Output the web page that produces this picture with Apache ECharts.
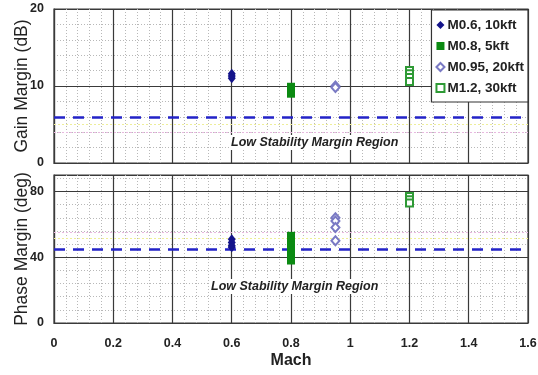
<!DOCTYPE html>
<html>
<head>
<meta charset="utf-8">
<script src="https://cdn.jsdelivr.net/npm/echarts@6/dist/echarts.min.js"></script>
<style>
  html, body { margin: 0; padding: 0; background: #fff; }
  #chart { width: 538px; height: 375px; }
</style>
</head>
<body>
<div id="chart"></div>
<script>
// Flight conditions (legend names) and their Mach numbers
const conditions = ['M0.6, 10kft', 'M0.8, 5kft', 'M0.95, 20kft', 'M1.2, 30kft'];
const machValues = [0.6, 0.8, 0.95, 1.2];

// Gain margin (dB) per condition
const gainMargins = [
  [11.6, 11.3, 11.0],
  [9.9, 9.6, 9.3, 9.0],
  [10.0, 9.8],
  [12.0, 11.6, 11.1, 10.6]
];

// Phase margin (deg) per condition
const phaseMargins = [
  [51, 49, 47, 46],
  [53, 50, 47, 44, 41, 38],
  [64, 62, 58, 50],
  [77, 75, 73]
];

// Stability requirement thresholds
const gainLimit = 6;
const phaseLimit = 45;

// Faint reference levels (pink, yellow) in each panel
const gainGuides = [4, 5];
const phaseGuides = [55, 51.5];

const xTicks = [0, 0.2, 0.4, 0.6, 0.8, 1, 1.2, 1.4, 1.6];
const gainTicks = [0, 10, 20];
const phaseTicks = [0, 40, 80];

const markerStyles = [
  { symbol: 'diamond', size: [8, 10], color: '#14148a' },
  { symbol: 'rect', size: [8, 8], color: '#0b8a12' },
  { symbol: 'emptyDiamond', size: [8, 9], color: '#7a7ac4' },
  { symbol: 'emptyRect', size: [7, 7], color: '#2e9a35' }
];

const tickFont = { fontFamily: '"Liberation Sans Narrow", "Liberation Sans", Arial, sans-serif', fontWeight: 'bold', fontSize: 12.5, color: '#222' };
const majorLine = { show: true, lineStyle: { color: '#3a3a3a', width: 1.2 } };
const minorLine = { show: true, lineStyle: { color: '#b8b8b8', width: 1, type: [1, 2] } };

function xAxisFor(gridIndex, showLabels) {
  return {
    type: 'value', gridIndex, min: 0, max: 1.6, interval: 0.2,
    axisLine: { show: true, lineStyle: { color: '#3a3a3a', width: 1.2 } },
    axisTick: { show: false },
    axisLabel: Object.assign({ show: showLabels, margin: 14, formatter: v => {
      const t = xTicks.find(k => Math.abs(k - v) < 1e-6);
      return t === undefined ? '' : String(t);
    } }, tickFont),
    splitLine: majorLine,
    minorTick: { show: false, splitNumber: 5 },
    minorSplitLine: minorLine,
    name: showLabels ? 'Mach' : '',
    nameLocation: 'middle', nameGap: 30, nameMoveOverlap: false,
    nameTextStyle: { fontFamily: 'Liberation Sans, Arial, sans-serif', fontWeight: 'bold', fontSize: 16, color: '#222' }
  };
}

function yAxisFor(gridIndex, max, interval, name, ticks) {
  return {
    type: 'value', gridIndex, min: 0, max, interval,
    axisLine: { show: true, lineStyle: { color: '#3a3a3a', width: 1.2 } },
    axisTick: { show: false },
    axisLabel: Object.assign({ margin: 10, showMaxLabel: true, formatter: v => ticks.includes(v) ? String(v) : '' }, tickFont),
    splitLine: majorLine,
    minorTick: { show: false, splitNumber: 5 },
    minorSplitLine: minorLine,
    name, nameLocation: 'middle', nameGap: 23, nameRotate: 90, nameMoveOverlap: false,
    nameTextStyle: { fontFamily: 'Liberation Sans, Arial, sans-serif', fontSize: 17.5, color: '#222' }
  };
}

const series = [];
conditions.forEach((name, i) => {
  const st = markerStyles[i];
  const base = {
    name, type: 'scatter', symbol: st.symbol, symbolSize: st.size,
    itemStyle: { color: st.color, borderColor: st.color, borderWidth: st.symbol.startsWith('empty') ? 1.2 : 0, opacity: 1 },
    z: 5
  };
  series.push(Object.assign({}, base, {
    xAxisIndex: 0, yAxisIndex: 0,
    data: gainMargins[i].map(v => [machValues[i], v])
  }));
  series.push(Object.assign({}, base, {
    xAxisIndex: 1, yAxisIndex: 1,
    data: phaseMargins[i].map(v => [machValues[i], v])
  }));
});

const dashStyle = { color: '#2323c8', width: 2.5, type: [11, 8] };
const guideColors = ['#e8b8e0', '#eeee9a'];

function levelSeries(name, axisIndex, limit, guides) {
  return {
    name, type: 'line', symbol: 'none', data: [], silent: true, z: 3,
    xAxisIndex: axisIndex, yAxisIndex: axisIndex,
    markLine: {
      symbol: 'none', silent: true, label: { show: false },
      data: [
        { yAxis: guides[0], lineStyle: { color: guideColors[0], width: 1, type: [2, 2] } },
        { yAxis: guides[1], lineStyle: { color: guideColors[1], width: 1, type: [2, 2] } },
        { yAxis: limit, lineStyle: dashStyle }
      ]
    }
  };
}
series.push(levelSeries('gainLimit', 0, gainLimit, gainGuides));
series.push(levelSeries('phaseLimit', 1, phaseLimit, phaseGuides));

const regionText = {
  fontFamily: 'Liberation Sans, Arial, sans-serif', fontStyle: 'italic', fontWeight: 'bold',
  fontSize: 12.5, fill: '#222', backgroundColor: '#fff', padding: [1, 2]
};

const chart = echarts.init(document.getElementById('chart'), null, { renderer: 'canvas' });
chart.setOption({
  animation: false,
  backgroundColor: '#fff',
  grid: [
    { left: 54, top: 9, width: 474, height: 154, outerBoundsMode: 'none', containLabel: false, show: true, borderColor: '#3a3a3a', borderWidth: 1.2, backgroundColor: '#fff' },
    { left: 54, top: 175, width: 474, height: 148, outerBoundsMode: 'none', containLabel: false, show: true, borderColor: '#3a3a3a', borderWidth: 1.2, backgroundColor: '#fff' }
  ],
  xAxis: [xAxisFor(0, false), xAxisFor(1, true)],
  yAxis: [
    yAxisFor(0, 20, 10, 'Gain Margin (dB)', gainTicks),
    yAxisFor(1, 90, 40, 'Phase Margin (deg)', phaseTicks)
  ],
  legend: {
    data: conditions,
    orient: 'vertical', right: 10, top: 10,
    backgroundColor: '#fff', borderColor: '#333', borderWidth: 1.2, borderRadius: 0,
    padding: [8, 4, 7, 4], itemGap: 7, itemWidth: 8, itemHeight: 8,
    textStyle: { fontFamily: 'Liberation Sans, Arial, sans-serif', fontWeight: 'bold', fontSize: 13.5, color: '#222', padding: [0, 0, 0, -2] }
  },
  graphic: [
    { type: 'text', left: 229, top: 135, z: 10, style: Object.assign({ text: 'Low Stability Margin Region' }, regionText) },
    { type: 'text', left: 209, top: 279, z: 10, style: Object.assign({ text: 'Low Stability Margin Region' }, regionText) }
  ],
  series
});
</script>
</body>
</html>
